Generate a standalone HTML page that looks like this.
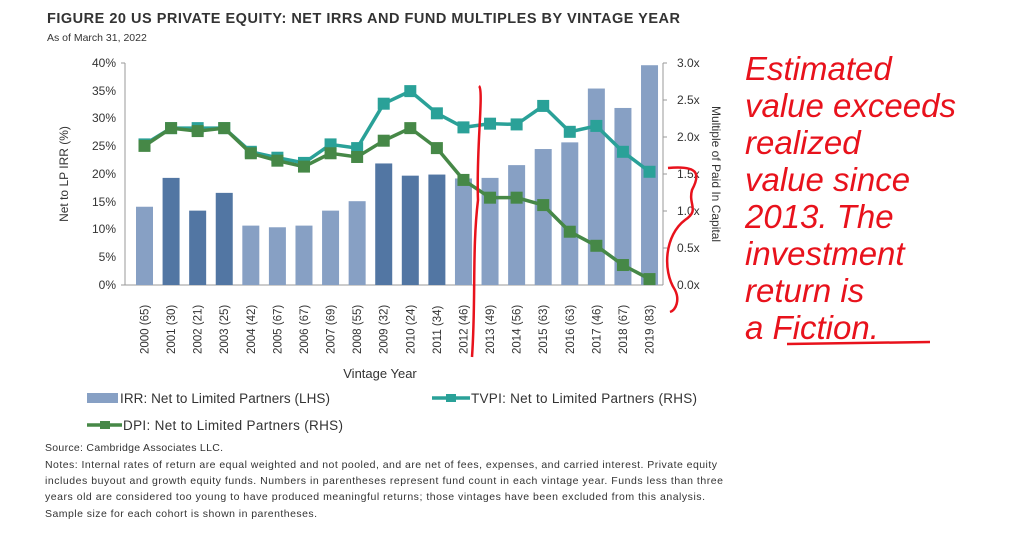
<!DOCTYPE html>
<html><head><meta charset="utf-8"><style>
body{margin:0;background:#fff;width:1023px;height:530px;overflow:hidden}
svg text{font-family:"Liberation Sans",sans-serif}
</style></head><body>
<svg width="1023" height="530" xmlns="http://www.w3.org/2000/svg">
<text x="47" y="23" font-size="14.5" font-weight="bold" fill="#333" textLength="633">FIGURE 20 US PRIVATE EQUITY: NET IRRS AND FUND MULTIPLES BY VINTAGE YEAR</text>
<text x="47" y="41" font-size="10.5" fill="#333">As of March 31, 2022</text>
<g font-size="12" fill="#333" text-anchor="end">
<text x="116" y="67">40%</text><text x="116" y="95">35%</text><text x="116" y="122">30%</text><text x="116" y="150">25%</text><text x="116" y="178">20%</text><text x="116" y="206">15%</text><text x="116" y="233">10%</text><text x="116" y="261">5%</text><text x="116" y="289">0%</text>
</g>
<g font-size="12" fill="#333">
<text x="677" y="67">3.0x</text><text x="677" y="104">2.5x</text><text x="677" y="141">2.0x</text><text x="677" y="178">1.5x</text><text x="677" y="215">1.0x</text><text x="677" y="252">0.5x</text><text x="677" y="289">0.0x</text>
</g>
<text transform="translate(68,174) rotate(-90)" font-size="12" fill="#333" text-anchor="middle">Net to LP IRR (%)</text>
<text transform="translate(712,174) rotate(90)" font-size="12" fill="#333" text-anchor="middle">Multiple of Paid In Capital</text>
<g stroke="#999" stroke-width="1"><line x1="125" y1="63" x2="125" y2="285"/><line x1="121" y1="63" x2="125" y2="63"/><line x1="121" y1="285" x2="663" y2="285"/><line x1="663" y1="63" x2="663" y2="285"/><line x1="663" y1="63" x2="667" y2="63"/><line x1="663" y1="100" x2="667" y2="100"/><line x1="663" y1="137" x2="667" y2="137"/><line x1="663" y1="174" x2="667" y2="174"/><line x1="663" y1="211" x2="667" y2="211"/><line x1="663" y1="248" x2="667" y2="248"/></g>
<g id="bars"></g>
<g id="lines"></g>
<g id="xl" font-size="11.5" fill="#333"></g>
<text x="380" y="378" font-size="13" fill="#333" text-anchor="middle">Vintage Year</text>
<rect x="87" y="393" width="31" height="10" fill="#87a0c4"/>
<text x="120" y="403" font-size="13.5" fill="#333" textLength="210">IRR: Net to Limited Partners (LHS)</text>
<line x1="432" y1="398" x2="470" y2="398" stroke="#2aa198" stroke-width="3.5"/><rect x="446" y="394" width="10" height="8" fill="#2aa198"/>
<text x="471" y="403" font-size="13.5" fill="#333" textLength="226">TVPI: Net to Limited Partners (RHS)</text>
<line x1="87" y1="425" x2="122" y2="425" stroke="#468847" stroke-width="3.5"/><rect x="100" y="421" width="10" height="8" fill="#468847"/>
<text x="123" y="430" font-size="13.5" fill="#333" textLength="220">DPI: Net to Limited Partners (RHS)</text>
<g font-size="10.5" fill="#333">
<text x="45" y="451" textLength="178">Source: Cambridge Associates LLC.</text>
<text x="45" y="468" textLength="672">Notes: Internal rates of return are equal weighted and not pooled, and are net of fees, expenses, and carried interest. Private equity</text>
<text x="45" y="484" textLength="678">includes buyout and growth equity funds. Numbers in parentheses represent fund count in each vintage year. Funds less than three</text>
<text x="45" y="500" textLength="660">years old are considered too young to have produced meaningful returns; those vintages have been excluded from this analysis.</text>
<text x="45" y="517" textLength="272">Sample size for each cohort is shown in parentheses.</text>
</g>
<g font-family="'DejaVu Sans',sans-serif" font-size="33" fill="#e8121c" style="font-style:italic">
<text x="745" y="80">Estimated</text>
<text x="745" y="117">value exceeds</text>
<text x="745" y="154">realized</text>
<text x="745" y="191">value since</text>
<text x="745" y="228">2013. The</text>
<text x="745" y="265">investment</text>
<text x="745" y="302">return is</text>
<text x="745" y="339">a Fiction.</text>
</g>
<path d="M787 344 L930 342" stroke="#e8121c" stroke-width="2.5" fill="none"/>
<path d="M479 86 C484 90 476 150 478 200 C472 250 476 300 472 357" stroke="#e8121c" stroke-width="2.5" fill="none"/>
<path d="M668 168 C700 165 700 175 692 190 C688 205 700 210 685 220 C665 235 662 270 675 290 C680 300 676 310 670 312" stroke="#e8121c" stroke-width="2.5" fill="none"/>
</svg>
<script>
const irr=[14.1,19.3,13.4,16.6,10.7,10.4,10.7,13.4,15.1,21.9,19.7,19.9,19.2,19.3,21.6,24.5,25.7,35.4,31.9,39.6];
const dark=[1,2,3,9,10,11];
const tv=[1.9,2.12,2.12,2.12,1.8,1.72,1.65,1.9,1.85,2.45,2.62,2.32,2.13,2.18,2.17,2.42,2.07,2.15,1.8,1.53];
const dp=[1.88,2.12,2.08,2.12,1.78,1.68,1.6,1.78,1.73,1.95,2.12,1.85,1.42,1.18,1.18,1.08,0.72,0.53,0.27,0.08];
const cnt=[65,30,21,25,42,67,67,69,55,32,24,34,46,49,56,63,63,46,67,83];
let b="",l="",x="";
const cx=i=>144.5+i*26.58;
irr.forEach((v,i)=>{const h=v*5.55;b+=`<rect x="${cx(i)-8.5}" y="${285-h}" width="17" height="${h}" fill="${dark.includes(i)?'#5276a3':'#87a0c4'}"/>`;
x+=`<text transform="translate(${cx(i)+4},354) rotate(-90)">${2000+i} (${cnt[i]})</text>`;});
function line(a,c){let p=a.map((v,i)=>`${cx(i)},${285-v*74}`).join(" ");let s=`<polyline points="${p}" fill="none" stroke="${c}" stroke-width="3.5"/>`;a.forEach((v,i)=>s+=`<rect x="${cx(i)-6}" y="${285-v*74-6}" width="12" height="12" fill="${c}"/>`);return s;}
l=line(tv,"#2aa198")+line(dp,"#468847");
document.getElementById("bars").innerHTML=b;document.getElementById("lines").innerHTML=l;document.getElementById("xl").innerHTML=x;
</script>
</body></html>
